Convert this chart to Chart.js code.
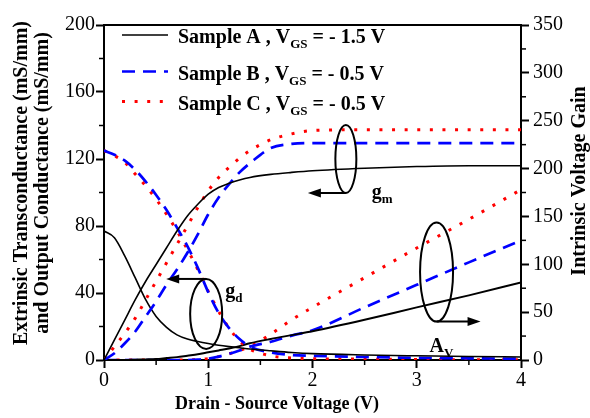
<!DOCTYPE html>
<html>
<head>
<meta charset="utf-8">
<script src="https://cdn.jsdelivr.net/npm/chart.js@4.4.0/dist/chart.umd.min.js"></script>
<style>
  body { margin: 0; background: #fff; }
  #wrap { width: 590px; height: 418px; position: relative; }
</style>
</head>
<body>
<div id="wrap"><canvas id="chart"></canvas></div>
<script>
// drain-source voltage (V)
const vds = [0, 0.1, 0.2, 0.3, 0.4, 0.5, 0.6, 0.7, 0.8, 0.9, 1.0, 1.1, 1.2, 1.3, 1.4, 1.6, 1.8, 2.0, 2.5, 3.0, 3.5, 4.0]

// extrinsic transconductance gm (mS/mm), left axis
const gmA = [0, 12, 24, 36, 47, 57, 67, 77, 86, 93, 99, 103, 105.5, 107.5, 109, 110.8, 112, 113, 114.5, 115.5, 116, 116]
const gmB = [0, 4, 10, 17, 26, 35, 45, 54, 64, 75, 87, 97, 105, 112, 117.5, 126.5, 129, 129.5, 129.5, 129.5, 129.5, 129.5]
const gmC = [0, 8, 16, 25, 36, 47, 58, 69, 80, 91, 101, 109, 115, 120.5, 125, 131.5, 135, 137, 137.5, 137.5, 137.5, 137.5]

// output conductance gd (mS/mm), left axis
const gdA = [77, 73, 62, 49, 36, 26, 19.5, 15, 12.5, 11, 9.8, 8.8, 8, 7.3, 6.6, 5.5, 4.5, 3.8, 3, 2.5, 2.1, 1.8]
const gdB = [125, 122.5, 119, 113.5, 106.5, 98.5, 89.5, 79, 68, 55, 40.5, 28, 19, 12.5, 8, 4.5, 3, 2.5, 1.8, 1.3, 1, 0.8]
const gdC = [125, 122, 118, 111, 104, 96, 87, 77, 66, 54, 41, 29, 19, 11.5, 6.5, 2.5, 1.2, 0.8, 0.5, 0.3, 0.2, 0.2]

// intrinsic voltage gain Av, right axis
const avA = [0, 0, 0, 0.3, 0.6, 1, 2, 3, 4.5, 6, 8, 10, 12, 14.5, 17.5, 22, 26, 30, 42, 55, 67.5, 81]
const avB = [0, 0, 0, 0, 0, 0, 0, 0, 0, 0.3, 1.5, 3.5, 6.5, 10, 14, 19, 25.5, 31, 55, 78.5, 102, 125]
const avC = [0, 0, 0, 0, 0, 0, 0, 0, 0, 0.5, 1.5, 3.5, 6.5, 10, 14, 27, 42, 55, 86, 117, 147, 178]

const xTickLabels = [0, 1, 2, 3, 4]
const leftTickLabels = [0, 40, 80, 120, 160, 200]
const rightTickLabels = [0, 50, 100, 150, 200, 250, 300, 350]

const legendRows = [
  { name: 'Sample A , V', sub: 'GS', rest: ' = - 1.5 V' },
  { name: 'Sample B , V', sub: 'GS', rest: ' = - 0.5 V' },
  { name: 'Sample C , V', sub: 'GS', rest: ' = - 0.5 V' }
]

const SERIF = '"Liberation Serif", "Times New Roman", serif'
const styleA = { borderColor: '#000', borderWidth: 1.6, borderDash: [] }
const styleB = { borderColor: '#0000ff', borderWidth: 2.7, borderDash: [13, 8] }
const styleC = { borderColor: '#ff0000', borderWidth: 3, borderDash: [3, 9.6] }

const series = (values, style, axis) => ({
  data: vds.map((v, i) => ({ x: v, y: values[i] })),
  yAxisID: axis,
  pointRadius: 0,
  fill: false,
  ...style
})

const isIn = (arr, v) => arr.some(a => Math.abs(a - v) < 1e-6)

// minor ticks, frame, legend, annotations and axis titles
const decor = {
  id: 'decor',
  afterDraw (chart) {
    const { ctx, chartArea: area, scales: { x, y, y1 } } = chart
    ctx.save()
    ctx.strokeStyle = '#000'
    ctx.fillStyle = '#000'

    // top frame
    ctx.lineWidth = 2
    ctx.beginPath()
    ctx.moveTo(area.left - 1, area.top)
    ctx.lineTo(area.right + 1, area.top)
    ctx.stroke()

    // minor ticks
    ctx.lineWidth = 1.5
    x.ticks.forEach(t => {
      if (isIn(xTickLabels, t.value)) return
      const px = x.getPixelForValue(t.value)
      ctx.beginPath(); ctx.moveTo(px, area.bottom); ctx.lineTo(px, area.bottom + 5); ctx.stroke()
    })
    y.ticks.forEach(t => {
      if (isIn(leftTickLabels, t.value)) return
      const py = y.getPixelForValue(t.value)
      ctx.beginPath(); ctx.moveTo(area.left, py); ctx.lineTo(area.left - 5, py); ctx.stroke()
    })
    y1.ticks.forEach(t => {
      if (isIn(rightTickLabels, t.value)) return
      const py = y1.getPixelForValue(t.value)
      ctx.beginPath(); ctx.moveTo(area.right, py); ctx.lineTo(area.right + 5, py); ctx.stroke()
    })

    // legend
    const rowY = [35, 71.5, 101.5]
    const styles = [styleA, styleB, styleC]
    legendRows.forEach((row, i) => {
      const ly = rowY[i]
      const st = styles[i]
      ctx.save()
      ctx.strokeStyle = st.borderColor
      ctx.lineWidth = st.borderWidth
      ctx.setLineDash(st.borderDash)
      ctx.beginPath(); ctx.moveTo(122, ly); ctx.lineTo(168, ly); ctx.stroke()
      ctx.restore()
      ctx.textBaseline = 'alphabetic'
      ctx.textAlign = 'left'
      let tx = 178
      ctx.font = 'bold 20px ' + SERIF
      ctx.fillText(row.name, tx, ly + 8)
      tx += ctx.measureText(row.name).width
      ctx.font = 'bold 13px ' + SERIF
      ctx.fillText(row.sub, tx, ly + 13)
      tx += ctx.measureText(row.sub).width
      ctx.font = 'bold 20px ' + SERIF
      ctx.fillText(row.rest, tx, ly + 8)
    })

    // ellipse + arrow annotations
    const arrowHead = (px, py, dir) => {
      ctx.beginPath()
      ctx.moveTo(px, py)
      ctx.lineTo(px - dir * 13, py - 4.5)
      ctx.lineTo(px - dir * 13, py + 4.5)
      ctx.closePath()
      ctx.fill()
    }
    const label = (main, sub, px, py) => {
      ctx.font = 'bold 20px ' + SERIF
      ctx.textAlign = 'left'
      ctx.fillText(main, px, py)
      const w = ctx.measureText(main).width
      ctx.font = 'bold 13px ' + SERIF
      ctx.fillText(sub, px + w, py + 5)
    }
    const marker = (vx, vy, rx, ry, fromTop, dx, main, sub, lx, ly) => {
      const cx = x.getPixelForValue(vx)
      const cy = y.getPixelForValue(vy)
      ctx.lineWidth = 2
      ctx.beginPath()
      ctx.ellipse(cx, cy, rx, ry, 0, 0, Math.PI * 2)
      ctx.stroke()
      const ay = fromTop ? cy - ry : cy + ry
      const ex = cx + dx
      ctx.beginPath(); ctx.moveTo(cx, ay); ctx.lineTo(ex - Math.sign(dx) * 10, ay); ctx.stroke()
      arrowHead(ex, ay, Math.sign(dx))
      label(main, sub, cx + lx, cy + ly)
    }
    marker(2.32, 120, 10.5, 34, false, -38, 'g', 'm', 26, 39)
    marker(0.98, 27.5, 16, 35, true, -40, 'g', 'd', 19, -17)
    marker(3.19, 52.5, 16.5, 49.5, false, 44, 'A', 'V', -7, 80)

    // axis titles
    ctx.textAlign = 'center'
    ctx.textBaseline = 'middle'
    ctx.font = 'bold 18px ' + SERIF
    ctx.fillText('Drain - Source Voltage (V)', 277, 404)

    ctx.font = 'bold 20px ' + SERIF
    ctx.save()
    ctx.translate(22, 183)
    ctx.rotate(-Math.PI / 2)
    ctx.fillText('Extrinsic Transconductance (mS/mm)', 0, 0)
    ctx.restore()
    ctx.save()
    ctx.translate(43, 183)
    ctx.rotate(-Math.PI / 2)
    ctx.fillText('and Output Conductance (mS/mm)', 0, 0)
    ctx.restore()
    ctx.save()
    ctx.translate(580, 181)
    ctx.rotate(-Math.PI / 2)
    ctx.fillText('Intrinsic Voltage Gain', 0, 0)
    ctx.restore()

    ctx.restore()
  }
}

const tickFont = { family: SERIF, size: 20 }
const majorColor = list => c => (c.tick && isIn(list, c.tick.value)) ? '#000' : 'rgba(0,0,0,0)'

new Chart('chart', {
  type: 'line',
  data: {
    datasets: [
      series(gmA, styleA, 'y'),
      series(gmB, styleB, 'y'),
      series(gmC, styleC, 'y'),
      series(gdA, styleA, 'y'),
      series(gdB, styleB, 'y'),
      series(gdC, styleC, 'y'),
      series(avA, { ...styleA, borderWidth: 2 }, 'y1'),
      series(avB, styleB, 'y1'),
      series(avC, styleC, 'y1')
    ]
  },
  options: {
    responsive: true,
    maintainAspectRatio: false,
    animation: false,
    layout: { padding: { top: 25, left: 0, right: 0, bottom: 0 } },
    elements: { line: { tension: 0.4, cubicInterpolationMode: 'monotone' } },
    plugins: { legend: { display: false }, tooltip: { enabled: false } },
    scales: {
      x: {
        type: 'linear',
        min: 0,
        max: 4,
        ticks: {
          stepSize: 0.5,
          autoSkip: false,
          maxRotation: 0,
          padding: 1,
          color: '#000',
          font: tickFont,
          callback: v => isIn(xTickLabels, v) ? String(v) : ''
        },
        grid: { drawOnChartArea: false, tickLength: 8, tickWidth: 2, tickColor: majorColor(xTickLabels) },
        border: { color: '#000', width: 2 },
        afterFit: s => { s.height = 58 }
      },
      y: {
        position: 'left',
        min: 0,
        max: 200,
        ticks: {
          stepSize: 20,
          autoSkip: false,
          padding: 1,
          color: '#000',
          font: tickFont,
          callback: v => isIn(leftTickLabels, v) ? String(v) : ''
        },
        grid: { drawOnChartArea: false, tickLength: 8, tickWidth: 2, tickColor: majorColor(leftTickLabels) },
        border: { color: '#000', width: 2 },
        afterFit: s => { s.width = 104 }
      },
      y1: {
        position: 'right',
        min: 0,
        max: 350,
        ticks: {
          stepSize: 25,
          autoSkip: false,
          padding: 4,
          color: '#000',
          font: tickFont,
          callback: v => isIn(rightTickLabels, v) ? String(v) : ''
        },
        grid: { drawOnChartArea: false, tickLength: 8, tickWidth: 2, tickColor: majorColor(rightTickLabels) },
        border: { color: '#000', width: 2 },
        afterFit: s => { s.width = 69 }
      }
    }
  },
  plugins: [decor]
})
</script>
</body>
</html>
